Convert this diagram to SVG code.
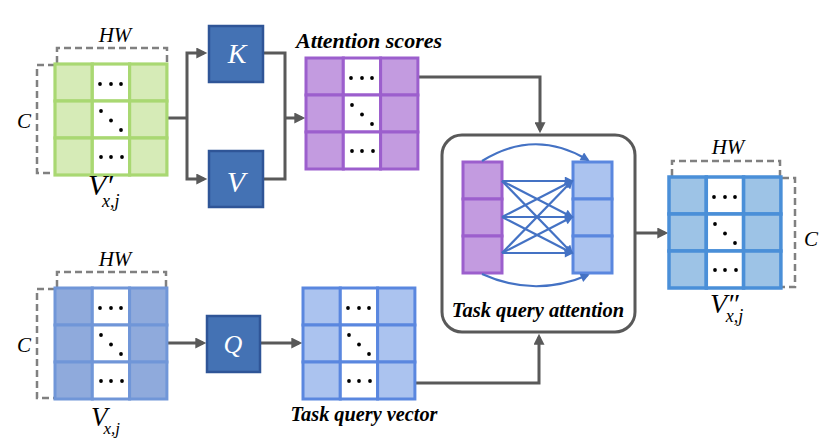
<svg xmlns="http://www.w3.org/2000/svg" xmlns:xlink="http://www.w3.org/1999/xlink" width="825" height="438" viewBox="0 0 825 438">
<style>
.t{font-family:"Liberation Serif","DejaVu Serif","Times New Roman",serif;font-style:italic;fill:#000}
.b{font-weight:bold}
.w{fill:#fff}
.conn{fill:none;stroke:#595959;stroke-width:3}
.att{fill:none;stroke:#4472c4;stroke-width:2.2}
.dash{fill:none;stroke:#808080;stroke-width:2.5;stroke-dasharray:7 4}
.g{fill:#d6ebb7;stroke:#a9d872;stroke-width:3.2}
.p{fill:#c39be0;stroke:#9c5fcd;stroke-width:3}
.lb{fill:#8faadc;stroke:#7096d8;stroke-width:3}
.qv{fill:#abc3ef;stroke:#5a87df;stroke-width:3}
.o{fill:#9dc3e6;stroke:#4a8fd8;stroke-width:3.5}
.mid{fill:#fff}
.box{fill:#4472b4;stroke:#2f5597;stroke-width:2.5}
.dot{fill:#000;stroke:none}
</style>
<defs>
<marker id="ah" viewBox="0 0 10 10" refX="7" refY="5" markerWidth="12" markerHeight="11" markerUnits="userSpaceOnUse" orient="auto">
<path d="M0,0 L10,5 L0,10 z" fill="#595959"/>
</marker>
<marker id="bh" viewBox="0 0 10 10" refX="8" refY="5" markerWidth="10" markerHeight="9" markerUnits="userSpaceOnUse" orient="auto">
<path d="M0,0 L10,5 L0,10 z" fill="#4472c4"/>
</marker>
<g id="dots">
<circle class="dot" cx="45" cy="20" r="1.9"/><circle class="dot" cx="56" cy="20" r="1.9"/><circle class="dot" cx="66" cy="20" r="1.9"/>
<circle class="dot" cx="46" cy="47" r="1.9"/><circle class="dot" cx="56" cy="56.5" r="1.9"/><circle class="dot" cx="66" cy="66" r="1.9"/>
<circle class="dot" cx="46" cy="93" r="1.9"/><circle class="dot" cx="56" cy="93" r="1.9"/><circle class="dot" cx="67" cy="93" r="1.9"/>
</g>
<g id="cells">
<rect x="0" y="0" width="37.3" height="37"/><rect class="mid" x="37.3" y="0" width="37.3" height="37"/><rect x="74.6" y="0" width="37.3" height="37"/>
<rect x="0" y="37" width="37.3" height="37"/><rect class="mid" x="37.3" y="37" width="37.3" height="37"/><rect x="74.6" y="37" width="37.3" height="37"/>
<rect x="0" y="74" width="37.3" height="37"/><rect class="mid" x="37.3" y="74" width="37.3" height="37"/><rect x="74.6" y="74" width="37.3" height="37"/>
</g>
</defs>

<g id="connectors">
<path class="conn" d="M167,118 H187"/>
<path class="conn" d="M187,118 V53 H204" marker-end="url(#ah)"/>
<path class="conn" d="M187,118 V179 H204" marker-end="url(#ah)"/>
<path class="conn" d="M263,53 H285 V179 H263"/>
<path class="conn" d="M285,118 H302" marker-end="url(#ah)"/>
<path class="conn" d="M418,77 H540 V130" marker-end="url(#ah)"/>
<path class="conn" d="M415,383 H539 V337" marker-end="url(#ah)"/>
<path class="conn" d="M167,343 H203" marker-end="url(#ah)"/>
<path class="conn" d="M260,343 H299" marker-end="url(#ah)"/>
<path class="conn" d="M636,233 H665" marker-end="url(#ah)"/>
</g>

<g id="vprime">
<path class="dash" d="M57,63 V48 H167 V63"/>
<path class="dash" d="M55,65 H37 V173 H55"/>
<g class="g" transform="translate(55,64)"><use xlink:href="#cells"/><use xlink:href="#dots"/></g>
<text class="t" x="115" y="42" font-size="21" text-anchor="middle">HW</text>
<text class="t" x="24" y="128" font-size="21" text-anchor="middle">C</text>
<text class="t" x="88" y="195" font-size="30">V′<tspan dx="-11" dy="12" font-size="18">x,j</tspan></text>
</g>

<g id="K">
<rect class="box" x="209" y="26" width="54" height="56"/>
<text class="t w" x="237" y="63" font-size="28" text-anchor="middle">K</text>
</g>
<g id="V">
<rect class="box" x="209" y="151" width="54" height="56"/>
<text class="t w" x="236" y="192" font-size="30" text-anchor="middle">V</text>
</g>

<g id="attention-scores">
<g class="p" transform="translate(306,58)"><use xlink:href="#cells"/><use xlink:href="#dots"/></g>
<text class="t b" x="369" y="48" font-size="22" text-anchor="middle">Attention scores</text>
</g>

<g id="vx">
<path class="dash" d="M57,287 V272 H166 V287"/>
<path class="dash" d="M55,289 H37 V398 H55"/>
<g class="lb" transform="translate(55,288)"><use xlink:href="#cells"/><use xlink:href="#dots"/></g>
<text class="t" x="115" y="266" font-size="21" text-anchor="middle">HW</text>
<text class="t" x="24" y="352" font-size="21" text-anchor="middle">C</text>
<text class="t" x="91" y="426" font-size="27">V<tspan dx="-4" dy="8" font-size="17">x,j</tspan></text>
</g>

<g id="Q">
<rect class="box" x="207" y="316" width="53" height="56"/>
<text class="t w" x="233" y="353" font-size="26" text-anchor="middle">Q</text>
</g>

<g id="task-query-vector">
<g class="qv" transform="translate(303,288)"><use xlink:href="#cells"/><use xlink:href="#dots"/></g>
<text class="t b" x="364" y="421" font-size="20.3" text-anchor="middle">Task query vector</text>
</g>

<g id="task-query-attention">
<rect x="442" y="135" width="193" height="197" rx="20" fill="#fff" stroke="#595959" stroke-width="3"/>
<g class="p"><rect x="463" y="162" width="39" height="37"/><rect x="463" y="199" width="39" height="37"/><rect x="463" y="236" width="39" height="37"/></g>
<g class="qv"><rect x="573" y="162" width="39" height="37"/><rect x="573" y="199" width="39" height="37"/><rect x="573" y="236" width="39" height="37"/></g>
<g>
<path class="att" d="M502,181 L572,181" marker-end="url(#bh)"/>
<path class="att" d="M502,181 L572,217" marker-end="url(#bh)"/>
<path class="att" d="M502,181 L572,253" marker-end="url(#bh)"/>
<path class="att" d="M502,217 L572,181" marker-end="url(#bh)"/>
<path class="att" d="M502,217 L572,217" marker-end="url(#bh)"/>
<path class="att" d="M502,217 L572,253" marker-end="url(#bh)"/>
<path class="att" d="M502,253 L572,181" marker-end="url(#bh)"/>
<path class="att" d="M502,253 L572,217" marker-end="url(#bh)"/>
<path class="att" d="M502,253 L572,253" marker-end="url(#bh)"/>
<path class="att" d="M482,161 Q535,128 588,160" marker-end="url(#bh)"/>
<path class="att" d="M482,274 Q535,298 588,275" marker-end="url(#bh)"/>
</g>
<text class="t b" x="538" y="317" font-size="20.5" text-anchor="middle">Task query attention</text>
</g>

<g id="vdoubleprime">
<path class="dash" d="M672,176 V161 H780 V176"/>
<path class="dash" d="M782,178 H795 V287 H782"/>
<g class="o" transform="translate(669,177)"><use xlink:href="#cells"/><use xlink:href="#dots"/></g>
<text class="t" x="728" y="154" font-size="21" text-anchor="middle">HW</text>
<text class="t" x="811" y="246" font-size="21" text-anchor="middle">C</text>
<text class="t" x="710" y="313" font-size="28">V″<tspan dx="-13" dy="9" font-size="18">x,j</tspan></text>
</g>
</svg>
